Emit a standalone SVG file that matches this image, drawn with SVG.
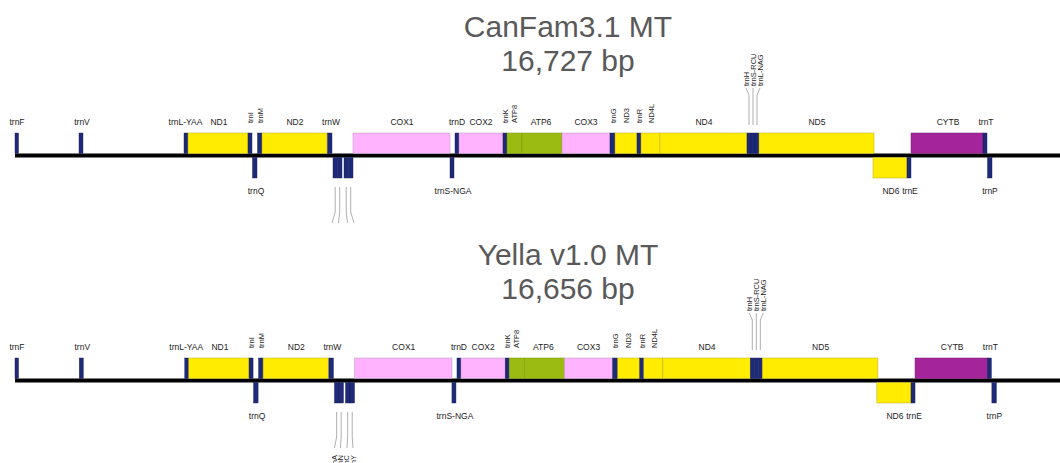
<svg xmlns="http://www.w3.org/2000/svg" width="1060" height="463" viewBox="0 0 1060 463">
  <style>
    .trna { fill: #1e2a78; stroke: #131b52; stroke-width: 0.4; }
    .nd   { fill: #ffec00; stroke: #b9ab1a; stroke-width: 0.5; }
    .cox  { fill: #ffb3ff; stroke: #b79ab7; stroke-width: 0.5; }
    .atp  { fill: #9cbb12; stroke: #7b9410; stroke-width: 0.5; }
    .cyt  { fill: #a4259b; stroke: #7a1c73; stroke-width: 0.5; }
    .axis { fill: #000; }
    .lbl  { font-family: "Liberation Sans", Arial, sans-serif; font-size: 8.5px; fill: #222; text-anchor: middle; }
    .rot  { font-family: "Liberation Sans", Arial, sans-serif; font-size: 7.5px; fill: #222; }
    .rotd { font-family: "Liberation Sans", Arial, sans-serif; font-size: 7.5px; fill: #222; text-anchor: end; }
    .lead { fill: none; stroke: #9a9a9a; stroke-width: 0.8; }
    .title { font-family: "Liberation Sans", Arial, sans-serif; font-size: 30px; fill: #595959; text-anchor: middle; }
  </style>

  <rect width="1060" height="463" fill="#fff"/>

  <!-- ===================== CanFam3.1 ===================== -->
  <g id="canfam-title">
    <text class="title" x="568" y="37">CanFam3.1 MT</text>
    <text class="title" x="568" y="71">16,727 bp</text>
  </g>

  <g id="canfam-track">
    <rect id="canfam-axis" class="axis" x="15" y="153.5" width="1050" height="4"/>

    <!-- heavy strand (above the axis) -->
    <g id="cf-trnF"><rect class="trna" x="15" y="133" width="3.5" height="20.5"/><text class="lbl" x="17" y="125">trnF</text></g>
    <g id="cf-trnV"><rect class="trna" x="79" y="133" width="4" height="20.5"/><text class="lbl" x="82" y="125">trnV</text></g>
    <g id="cf-trnL-YAA"><rect class="trna" x="184" y="133" width="4" height="20.5"/><text class="lbl" x="185.5" y="125">trnL-YAA</text></g>
    <g id="cf-ND1"><rect class="nd" x="188" y="133" width="60" height="20.5"/><text class="lbl" x="219" y="125">ND1</text></g>
    <g id="cf-trnI"><rect class="trna" x="248" y="133" width="4" height="20.5"/><text class="rot" transform="translate(253,123) rotate(-90)">trnI</text></g>
    <g id="cf-trnM"><rect class="trna" x="257.5" y="133" width="4.5" height="20.5"/><text class="rot" transform="translate(262.5,123) rotate(-90)">trnM</text></g>
    <g id="cf-ND2"><rect class="nd" x="262" y="133" width="65" height="20.5"/><text class="lbl" x="295" y="125">ND2</text></g>
    <g id="cf-trnW"><rect class="trna" x="327.5" y="133" width="4.5" height="20.5"/><text class="lbl" x="331" y="125">trnW</text></g>
    <g id="cf-COX1"><rect class="cox" x="353" y="133" width="97" height="20.5"/><text class="lbl" x="402" y="125">COX1</text></g>
    <g id="cf-trnD"><rect class="trna" x="455" y="133" width="4" height="20.5"/><text class="lbl" x="457" y="125">trnD</text></g>
    <g id="cf-COX2"><rect class="cox" x="459" y="133" width="44" height="20.5"/><text class="lbl" x="481" y="125">COX2</text></g>
    <g id="cf-trnK"><rect class="trna" x="503" y="133" width="4" height="20.5"/><text class="rot" transform="translate(508,123) rotate(-90)">trnK</text></g>
    <g id="cf-ATP8"><rect class="atp" x="507" y="133" width="15" height="20.5"/><text class="rot" transform="translate(517,123) rotate(-90)">ATP8</text></g>
    <g id="cf-ATP6"><rect class="atp" x="522" y="133" width="40" height="20.5"/><text class="lbl" x="541" y="125">ATP6</text></g>
    <g id="cf-COX3"><rect class="cox" x="562" y="133" width="48" height="20.5"/><text class="lbl" x="586" y="125">COX3</text></g>
    <g id="cf-trnG"><rect class="trna" x="610" y="133" width="5" height="20.5"/><text class="rot" transform="translate(615.5,123) rotate(-90)">trnG</text></g>
    <g id="cf-ND3"><rect class="nd" x="615" y="133" width="22" height="20.5"/><text class="rot" transform="translate(628.5,123) rotate(-90)">ND3</text></g>
    <g id="cf-trnR"><rect class="trna" x="637" y="133" width="4" height="20.5"/><text class="rot" transform="translate(642,123) rotate(-90)">trnR</text></g>
    <g id="cf-ND4L"><rect class="nd" x="641" y="133" width="19" height="20.5"/><text class="rot" transform="translate(654,123) rotate(-90)">ND4L</text></g>
    <g id="cf-ND4"><rect class="nd" x="660" y="133" width="87" height="20.5"/><text class="lbl" x="704" y="125">ND4</text></g>
    <g id="cf-trnH"><rect class="trna" x="747" y="133" width="4" height="20.5"/><text class="rot" transform="translate(748.5,86) rotate(-90)">trnH</text></g>
    <g id="cf-trnS-RCU"><rect class="trna" x="751" y="133" width="4" height="20.5"/><text class="rot" transform="translate(755.5,86) rotate(-90)">trnS-RCU</text></g>
    <g id="cf-trnL-NAG"><rect class="trna" x="755" y="133" width="4" height="20.5"/><text class="rot" transform="translate(762.5,86) rotate(-90)">trnL-NAG</text></g>
    <g id="cf-ND5"><rect class="nd" x="759" y="133" width="115" height="20.5"/><text class="lbl" x="817" y="125">ND5</text></g>
    <g id="cf-CYTB"><rect class="cyt" x="911" y="133" width="72" height="20.5"/><text class="lbl" x="948" y="125">CYTB</text></g>
    <g id="cf-trnT"><rect class="trna" x="983" y="133" width="4" height="20.5"/><text class="lbl" x="986" y="125">trnT</text></g>

    <!-- light strand (below the axis) -->
    <g id="cf-trnQ"><rect class="trna" x="252.5" y="157.5" width="4.5" height="20.5"/><text class="lbl" x="256" y="194">trnQ</text></g>
    <g id="cf-trnA"><rect class="trna" x="333" y="157.5" width="4.5" height="20.5"/></g>
    <g id="cf-trnN"><rect class="trna" x="337.5" y="157.5" width="4.5" height="20.5"/></g>
    <g id="cf-trnC"><rect class="trna" x="344" y="157.5" width="4.5" height="20.5"/></g>
    <g id="cf-trnY"><rect class="trna" x="348.5" y="157.5" width="4.5" height="20.5"/></g>
    <g id="cf-trnS-NGA"><rect class="trna" x="450" y="157.5" width="4" height="20.5"/><text class="lbl" x="453" y="194">trnS-NGA</text></g>
    <g id="cf-ND6"><rect class="nd" x="873" y="157.5" width="34" height="20.5"/><text class="lbl" x="891" y="194">ND6</text></g>
    <g id="cf-trnE"><rect class="trna" x="907" y="157.5" width="4" height="20.5"/><text class="lbl" x="910" y="194">trnE</text></g>
    <g id="cf-trnP"><rect class="trna" x="987.5" y="157.5" width="4.5" height="20.5"/><text class="lbl" x="990" y="194">trnP</text></g>

    <!-- leader lines for crowded tRNA labels -->
    <g id="cf-leaders">
      <path class="lead" d="M749 125 V95 L746 88"/>
      <path class="lead" d="M753 125 V88"/>
      <path class="lead" d="M757 125 V95 L760 88"/>
      <path class="lead" d="M335.2 187 V212 L332 223"/>
      <path class="lead" d="M339.7 187 V212 L338.5 223"/>
      <path class="lead" d="M346.2 187 V212 L347.5 223"/>
      <path class="lead" d="M350.7 187 V212 L354 223"/>
    </g>
  </g>

  <!-- ===================== Yella v1.0 ===================== -->
  <g id="yella-title">
    <text class="title" x="568" y="265">Yella v1.0 MT</text>
    <text class="title" x="568" y="299">16,656 bp</text>
  </g>

  <g id="yella-track" transform="matrix(1.0045 0 0 1 -0.072 225)">
    <rect id="yella-axis" class="axis" x="15" y="153.5" width="1050" height="4"/>

    <!-- heavy strand (above the axis) -->
    <g id="ye-trnF"><rect class="trna" x="15" y="133" width="3.5" height="20.5"/><text class="lbl" x="17" y="125">trnF</text></g>
    <g id="ye-trnV"><rect class="trna" x="79" y="133" width="4" height="20.5"/><text class="lbl" x="82" y="125">trnV</text></g>
    <g id="ye-trnL-YAA"><rect class="trna" x="184" y="133" width="4" height="20.5"/><text class="lbl" x="185.5" y="125">trnL-YAA</text></g>
    <g id="ye-ND1"><rect class="nd" x="188" y="133" width="60" height="20.5"/><text class="lbl" x="219" y="125">ND1</text></g>
    <g id="ye-trnI"><rect class="trna" x="248" y="133" width="4" height="20.5"/><text class="rot" transform="translate(253,123) rotate(-90)">trnI</text></g>
    <g id="ye-trnM"><rect class="trna" x="257.5" y="133" width="4.5" height="20.5"/><text class="rot" transform="translate(262.5,123) rotate(-90)">trnM</text></g>
    <g id="ye-ND2"><rect class="nd" x="262" y="133" width="65" height="20.5"/><text class="lbl" x="295" y="125">ND2</text></g>
    <g id="ye-trnW"><rect class="trna" x="327.5" y="133" width="4.5" height="20.5"/><text class="lbl" x="331" y="125">trnW</text></g>
    <g id="ye-COX1"><rect class="cox" x="353" y="133" width="97" height="20.5"/><text class="lbl" x="402" y="125">COX1</text></g>
    <g id="ye-trnD"><rect class="trna" x="455" y="133" width="4" height="20.5"/><text class="lbl" x="457" y="125">trnD</text></g>
    <g id="ye-COX2"><rect class="cox" x="459" y="133" width="44" height="20.5"/><text class="lbl" x="481" y="125">COX2</text></g>
    <g id="ye-trnK"><rect class="trna" x="503" y="133" width="4" height="20.5"/><text class="rot" transform="translate(508,123) rotate(-90)">trnK</text></g>
    <g id="ye-ATP8"><rect class="atp" x="507" y="133" width="15" height="20.5"/><text class="rot" transform="translate(517,123) rotate(-90)">ATP8</text></g>
    <g id="ye-ATP6"><rect class="atp" x="522" y="133" width="40" height="20.5"/><text class="lbl" x="541" y="125">ATP6</text></g>
    <g id="ye-COX3"><rect class="cox" x="562" y="133" width="48" height="20.5"/><text class="lbl" x="586" y="125">COX3</text></g>
    <g id="ye-trnG"><rect class="trna" x="610" y="133" width="5" height="20.5"/><text class="rot" transform="translate(615.5,123) rotate(-90)">trnG</text></g>
    <g id="ye-ND3"><rect class="nd" x="615" y="133" width="22" height="20.5"/><text class="rot" transform="translate(628.5,123) rotate(-90)">ND3</text></g>
    <g id="ye-trnR"><rect class="trna" x="637" y="133" width="4" height="20.5"/><text class="rot" transform="translate(642,123) rotate(-90)">trnR</text></g>
    <g id="ye-ND4L"><rect class="nd" x="641" y="133" width="19" height="20.5"/><text class="rot" transform="translate(654,123) rotate(-90)">ND4L</text></g>
    <g id="ye-ND4"><rect class="nd" x="660" y="133" width="87" height="20.5"/><text class="lbl" x="704" y="125">ND4</text></g>
    <g id="ye-trnH"><rect class="trna" x="747" y="133" width="4" height="20.5"/><text class="rot" transform="translate(748.5,86) rotate(-90)">trnH</text></g>
    <g id="ye-trnS-RCU"><rect class="trna" x="751" y="133" width="4" height="20.5"/><text class="rot" transform="translate(755.5,86) rotate(-90)">trnS-RCU</text></g>
    <g id="ye-trnL-NAG"><rect class="trna" x="755" y="133" width="4" height="20.5"/><text class="rot" transform="translate(762.5,86) rotate(-90)">trnL-NAG</text></g>
    <g id="ye-ND5"><rect class="nd" x="759" y="133" width="115" height="20.5"/><text class="lbl" x="817" y="125">ND5</text></g>
    <g id="ye-CYTB"><rect class="cyt" x="911" y="133" width="72" height="20.5"/><text class="lbl" x="948" y="125">CYTB</text></g>
    <g id="ye-trnT"><rect class="trna" x="983" y="133" width="4" height="20.5"/><text class="lbl" x="986" y="125">trnT</text></g>

    <!-- light strand (below the axis) -->
    <g id="ye-trnQ"><rect class="trna" x="252.5" y="157.5" width="4.5" height="20.5"/><text class="lbl" x="256" y="194">trnQ</text></g>
    <g id="ye-trnA"><rect class="trna" x="333" y="157.5" width="4.5" height="20.5"/><text class="rotd" transform="translate(336,230) rotate(-90)">trnA</text></g>
    <g id="ye-trnN"><rect class="trna" x="337.5" y="157.5" width="4.5" height="20.5"/><text class="rotd" transform="translate(342,230) rotate(-90)">trnN</text></g>
    <g id="ye-trnC"><rect class="trna" x="344" y="157.5" width="4.5" height="20.5"/><text class="rotd" transform="translate(348,230) rotate(-90)">trnC</text></g>
    <g id="ye-trnY"><rect class="trna" x="348.5" y="157.5" width="4.5" height="20.5"/><text class="rotd" transform="translate(354,230) rotate(-90)">trnY</text></g>
    <g id="ye-trnS-NGA"><rect class="trna" x="450" y="157.5" width="4" height="20.5"/><text class="lbl" x="453" y="194">trnS-NGA</text></g>
    <g id="ye-ND6"><rect class="nd" x="873" y="157.5" width="34" height="20.5"/><text class="lbl" x="891" y="194">ND6</text></g>
    <g id="ye-trnE"><rect class="trna" x="907" y="157.5" width="4" height="20.5"/><text class="lbl" x="910" y="194">trnE</text></g>
    <g id="ye-trnP"><rect class="trna" x="987.5" y="157.5" width="4.5" height="20.5"/><text class="lbl" x="990" y="194">trnP</text></g>

    <!-- leader lines for crowded tRNA labels -->
    <g id="ye-leaders">
      <path class="lead" d="M749 125 V95 L746 88"/>
      <path class="lead" d="M753 125 V88"/>
      <path class="lead" d="M757 125 V95 L760 88"/>
      <path class="lead" d="M335.2 187 V212 L333 223"/>
      <path class="lead" d="M339.7 187 V212 L339 223"/>
      <path class="lead" d="M346.2 187 V212 L345.5 223"/>
      <path class="lead" d="M350.7 187 V212 L351.5 223"/>
    </g>
  </g>
</svg>
